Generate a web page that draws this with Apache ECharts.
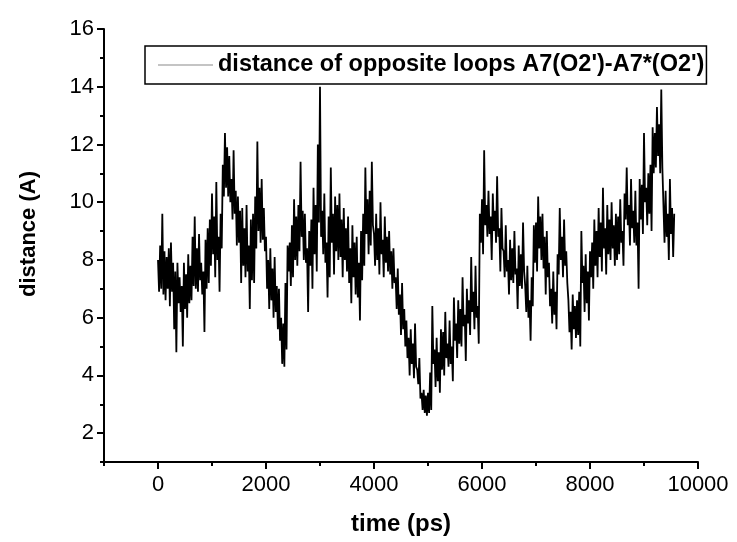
<!DOCTYPE html>
<html>
<head>
<meta charset="utf-8">
<script src="https://cdn.jsdelivr.net/npm/echarts@6/dist/echarts.min.js"></script>
<style>html,body{margin:0;padding:0;background:#fff;}#c{width:737px;height:542px;}</style>
</head>
<body>
<div id="c"></div>
<script>
// sampling: one value every 20 ps starting at 0 ps
const timeStartPs = 0;
const timeStepPs = 20;
const distanceA = [
  8.0, 6.9, 8.5, 7.0, 9.6, 6.8, 8.3, 6.6, 8.1, 7.0, 8.4, 6.4, 8.6, 6.9, 7.9, 5.6, 7.6, 4.8, 7.9, 6.5,
  7.4, 6.2, 7.1, 5.0, 7.9, 6.3, 7.5, 6.0, 8.2, 6.5, 7.8, 6.6, 8.8, 7.1, 9.5, 7.0, 8.4, 6.9, 8.9, 7.3,
  7.9, 6.8, 7.6, 5.5, 8.7, 7.0, 9.1, 7.2, 9.4, 7.8, 10.3, 8.2, 9.5, 7.4, 10.7, 8.0, 8.8, 6.9, 9.6, 8.4,
  11.3, 10.2, 12.4, 10.5, 11.9, 10.2, 11.6, 10.0, 10.8, 9.4, 11.8, 9.6, 10.4, 8.5, 10.2, 8.6, 9.7, 7.2, 9.8, 7.8,
  9.1, 7.4, 9.9, 7.6, 8.5, 6.3, 9.4, 7.3, 9.6, 7.2, 10.2, 8.4, 12.1, 9.0, 10.5, 8.6, 10.8, 8.7, 9.8, 8.3,
  8.8, 7.0, 8.0, 6.3, 8.4, 6.6, 7.7, 6.0, 8.1, 6.2, 7.1, 5.6, 7.0, 5.2, 6.0, 4.4, 5.8, 4.3, 7.2, 4.9,
  8.5, 7.6, 8.6, 7.1, 9.2, 7.4, 10.1, 8.0, 9.5, 7.8, 9.9, 8.3, 11.4, 8.8, 9.7, 8.0, 9.6, 7.9, 8.4, 6.2,
  9.0, 7.8, 9.4, 7.0, 10.5, 8.2, 9.9, 7.6, 12.0, 9.3, 14.0, 8.8, 9.7, 8.2, 10.3, 7.9, 8.6, 6.7, 9.5, 7.4,
  11.2, 8.6, 9.6, 7.5, 10.2, 8.3, 9.9, 8.0, 10.3, 8.1, 9.4, 7.4, 9.8, 8.0, 9.1, 7.6, 9.5, 7.2, 8.4, 6.5,
  9.2, 7.4, 8.6, 6.8, 8.8, 6.7, 7.9, 5.9, 9.0, 7.3, 9.6, 7.8, 11.2, 8.9, 10.1, 8.2, 10.4, 8.5, 11.4, 9.2,
  8.9, 7.8, 9.6, 8.0, 9.1, 7.5, 10.0, 8.2, 8.7, 7.4, 9.5, 7.9, 8.8, 7.6, 9.0, 7.5, 8.3, 7.0, 8.4, 7.2,
  7.4, 6.3, 7.7, 6.1, 6.8, 5.4, 7.2, 5.6, 6.3, 5.0, 5.9, 4.6, 5.3, 4.0, 5.6, 4.4, 5.1, 3.9, 5.8, 4.3,
  4.2, 3.7, 4.6, 3.2, 3.4, 2.8, 3.5, 2.7, 3.3, 2.6, 3.4, 2.7, 4.1, 2.8, 6.4, 4.4, 4.9, 3.6, 5.3, 3.8,
  4.8, 3.4, 5.6, 4.2, 5.5, 4.0, 6.2, 4.6, 5.1, 4.3, 5.9, 4.4, 5.0, 3.8, 6.7, 5.2, 5.8, 4.6, 6.6, 5.1,
  6.3, 5.0, 7.4, 5.7, 6.1, 4.5, 7.0, 5.8, 6.6, 5.4, 8.1, 6.2, 6.9, 5.6, 7.8, 6.0, 6.4, 5.1, 9.6, 8.6,
  10.1, 8.2, 11.8, 9.2, 9.9, 8.8, 10.4, 8.9, 9.5, 8.0, 10.3, 9.0, 9.7, 8.6, 10.9, 8.8, 9.1, 7.6, 9.8, 8.4,
  8.3, 7.4, 9.2, 7.6, 8.0, 6.8, 8.7, 7.3, 8.4, 7.2, 9.0, 7.5, 7.7, 6.3, 8.5, 7.1, 8.2, 7.0, 9.3, 7.6,
  7.1, 6.2, 7.8, 6.0, 6.6, 5.2, 7.4, 6.4, 9.2, 7.9, 9.3, 7.6, 10.2, 8.4, 9.5, 8.0, 9.6, 7.7, 8.8, 6.8,
  9.0, 7.4, 7.9, 6.4, 7.0, 5.8, 7.6, 6.1, 6.9, 5.6, 8.2, 7.5, 9.8, 8.0, 8.8, 7.4, 9.4, 7.8, 8.3, 7.2,
  6.6, 5.5, 6.2, 4.9, 6.8, 5.6, 6.4, 5.3, 6.6, 5.4, 6.9, 5.0, 9.0, 7.2, 7.8, 6.2, 8.2, 6.5, 7.6, 5.9,
  8.3, 7.4, 8.6, 7.0, 9.4, 7.8, 9.0, 7.4, 9.8, 8.1, 9.3, 7.6, 10.5, 8.4, 9.1, 7.5, 9.9, 8.2, 9.4, 8.0,
  10.0, 8.4, 9.2, 7.8, 9.6, 8.0, 9.5, 8.2, 10.1, 8.6, 9.0, 7.8, 10.3, 9.4, 11.2, 9.2, 9.9, 8.5, 10.8, 9.1,
  9.7, 8.6, 10.4, 8.5, 9.3, 7.0, 10.8, 9.4, 10.6, 8.9, 12.4, 10.0, 10.5, 9.2, 11.0, 9.6, 11.3, 9.0, 12.6, 11.0,
  12.4, 11.2, 13.3, 11.6, 12.7, 11.0, 13.9, 11.2, 9.9, 8.6, 10.4, 8.8, 9.6, 8.0, 10.8, 8.9, 9.8, 8.1, 9.6
];
// full axis ranges (minor ticks every 1000 ps / 1 A)
const xAxisMin = -1000, xAxisMax = 10000, xMinorStep = 1000;
const yAxisMin = 1, yAxisMax = 16, yMinorStep = 1;
// labelled major ticks
const xMajorMin = 0, xMajorMax = 10000, xMajorStep = 2000;
const yMajorMin = 2, yMajorMax = 16, yMajorStep = 2;
const seriesName = "distance of opposite loops A7(O2')-A7*(O2')";
const xName = 'time (ps)';
const yName = 'distance (A)';

const points = distanceA.map((v, i) => [timeStartPs + i * timeStepPs, v]);
const FONT = 'Liberation Sans';

// outer plot frame
const G = {left: 104, right: 39, top: 29, bottom: 80};
const plotW = 737 - G.left - G.right, plotH = 542 - G.top - G.bottom;
// inner frame that covers exactly the labelled major range of the same scale
const G2 = {
  left: G.left + plotW * (xMajorMin - xAxisMin) / (xAxisMax - xAxisMin),
  right: G.right + plotW * (xAxisMax - xMajorMax) / (xAxisMax - xAxisMin),
  top: G.top + plotH * (yAxisMax - yMajorMax) / (yAxisMax - yAxisMin),
  bottom: G.bottom + plotH * (yMajorMin - yAxisMin) / (yAxisMax - yAxisMin)
};

const chart = echarts.init(document.getElementById('c'), null, {renderer: 'canvas'});
chart.setOption({
  animation: false,
  backgroundColor: '#fff',
  grid: [
    Object.assign({containLabel: false}, G),
    Object.assign({containLabel: false}, G2)
  ],
  legend: {
    data: [seriesName],
    left: 145, top: 46,
    icon: 'rect', itemWidth: 55, itemHeight: 1,
    itemStyle: {color: '#8a8a8a'},
    borderColor: '#000', borderWidth: 1.5,
    padding: [7, 2, 7, 13],
    textStyle: {fontFamily: FONT, fontWeight: 'bold', fontSize: 23.5, color: '#000'}
  },
  xAxis: [{
    gridIndex: 0,
    type: 'value', min: xAxisMin, max: xAxisMax, interval: xMinorStep,
    position: 'bottom',
    name: xName, nameLocation: 'middle', nameGap: 50,
    nameTextStyle: {fontFamily: FONT, fontWeight: 'bold', fontSize: 24, color: '#000'},
    axisLine: {show: true, onZero: false, lineStyle: {color: '#000', width: 2}},
    axisTick: {show: true, inside: false, length: 4, lineStyle: {color: '#000', width: 2}},
    axisLabel: {show: false},
    splitLine: {show: false}
  }, {
    gridIndex: 1,
    type: 'value', min: xMajorMin, max: xMajorMax, interval: xMajorStep,
    position: 'bottom',
    offset: G2.bottom - G.bottom,
    axisLine: {show: false, onZero: false},
    axisTick: {show: true, inside: false, length: 7, lineStyle: {color: '#000', width: 2}},
    axisLabel: {show: true, margin: 12, fontFamily: FONT, fontSize: 22, color: '#000',
      formatter: v => String(v)},
    splitLine: {show: false}
  }],
  yAxis: [{
    gridIndex: 0,
    type: 'value', min: yAxisMin, max: yAxisMax, interval: yMinorStep,
    position: 'left',
    name: yName, nameLocation: 'middle', nameGap: 64, nameRotate: 90,
    nameTextStyle: {fontFamily: FONT, fontWeight: 'bold', fontSize: 22, color: '#000', padding: [0, 0, 0, 23]},
    axisLine: {show: true, onZero: false, lineStyle: {color: '#000', width: 2}},
    axisTick: {show: true, inside: false, length: 4, lineStyle: {color: '#000', width: 2}},
    axisLabel: {show: false},
    splitLine: {show: false}
  }, {
    gridIndex: 1,
    type: 'value', min: yMajorMin, max: yMajorMax, interval: yMajorStep,
    position: 'left',
    offset: G2.left - G.left,
    axisLine: {show: false, onZero: false},
    axisTick: {show: true, inside: false, length: 7, lineStyle: {color: '#000', width: 2}},
    axisLabel: {show: true, margin: 10, fontFamily: FONT, fontSize: 22, color: '#000',
      formatter: v => String(v)},
    splitLine: {show: false}
  }],
  series: [{
    name: seriesName,
    type: 'line',
    xAxisIndex: 0, yAxisIndex: 0,
    data: points,
    showSymbol: false, symbol: 'none',
    sampling: null,
    lineStyle: {color: '#000', width: 1.8},
    itemStyle: {color: '#8a8a8a'}
  }]
});
</script>
</body>
</html>
